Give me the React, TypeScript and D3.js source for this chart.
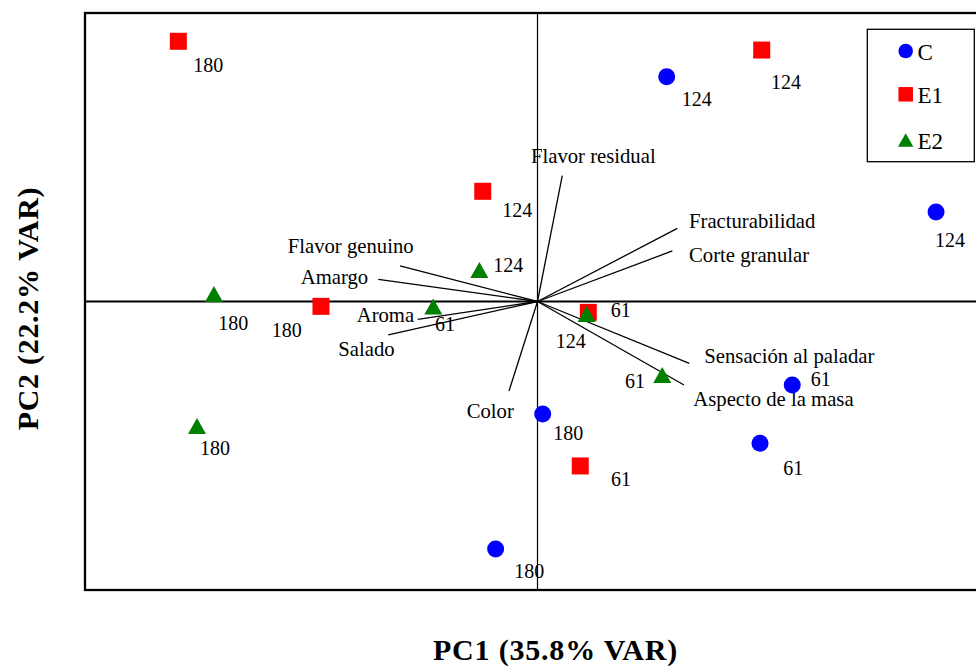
import React from "react";
import * as d3 from "d3";

// ---- data (PCA scores, arbitrary units) ----
const groups = ["C", "E1", "E2"];
const groupColors = ["#0000ff", "#ff0000", "#008000"];

const cX = [1.142, 3.523, 0.046, -0.37, 2.252, 1.967];
const cY = [1.948, 0.776, -0.975, -2.145, -0.724, -1.229];
const cLabels = ["124", "124", "180", "180", "61", "61"];

const e1X = [-3.175, 1.982, -0.484, -1.914, 0.449, 0.378];
const e1Y = [2.255, 2.179, 0.955, -0.042, -0.094, -1.425];
const e1Labels = ["180", "124", "124", "180", "61", "61"];

const e2X = [-2.86, -3.01, -0.514, -0.921, 0.435, 1.103];
const e2Y = [0.065, -1.079, 0.273, -0.043, -0.108, -0.637];
const e2Labels = ["180", "180", "124", "61", "124", "61"];

// loadings
const varNames = [
  "Flavor residual",
  "Fracturabilidad",
  "Corte granular",
  "Flavor genuino",
  "Amargo",
  "Aroma",
  "Salado",
  "Color",
  "Sensación al paladar",
  "Aspecto de la masa",
];
const varX = [0.219, 1.236, 1.192, -1.215, -1.407, -1.059, -1.319, -0.252, 1.342, 1.295];
const varY = [1.09, 0.634, 0.438, 0.308, 0.192, -0.154, -0.29, -0.776, -0.536, -0.724];

// ---- layout (label offsets in px) ----
const cLabelOff = [[15, 29.3], [-1, 34.7], [10.6, 26], [18.6, 29.3], [18.4, 1], [23.3, 31.7]];
const e1LabelOff = [[15, 30.4], [9.3, 39.3], [19.6, 26], [-49.3, 31], [22.4, 5], [30.7, 19.7]];
const e2LabelOff = [[4.3, 36], [3, 29], [14, 2], [1.7, 24.2], [-31, 34.3], [-37.3, 13.3]];
const varLabelOff = [
  [-31.3, -12.7],
  [11.7, -0.6],
  [16.7, 11],
  [-112.3, -12.7],
  [-77.6, 5],
  [-61, 2.4],
  [-50, 21],
  [-42.3, 26.7],
  [15, -0.6],
  [9.3, 21],
];

const FONT = "'Liberation Serif', 'Times New Roman', serif";

function Marker({ kind, cx, cy, color, s }: { kind: number; cx: number; cy: number; color: string; s: number }) {
  if (kind === 0) return <circle cx={cx} cy={cy} r={s / 2} fill={color} />;
  if (kind === 1) return <rect x={cx - s / 2} y={cy - s / 2} width={s} height={s} fill={color} />;
  const w = s * 1.06;
  const h = s * 0.94;
  return (
    <path
      d={`M${cx},${cy - h / 2}L${cx + w / 2},${cy + h / 2}L${cx - w / 2},${cy + h / 2}Z`}
      fill={color}
    />
  );
}

export default function App() {
  const W = 976;
  const H = 667;
  const x = d3.scaleLinear().domain([-4, 4]).range([85, 990]);
  const y = d3.scaleLinear().domain([-2.5, 2.5]).range([590, 13]);

  const series = [
    { xs: cX, ys: cY, labels: cLabels, off: cLabelOff },
    { xs: e1X, ys: e1Y, labels: e1Labels, off: e1LabelOff },
    { xs: e2X, ys: e2Y, labels: e2Labels, off: e2LabelOff },
  ];

  return (
    <svg
      width={W}
      height={H}
      style={{ position: "absolute", left: 0, top: 0, background: "#fff" }}
      fontFamily={FONT}
    >
      <rect x={0} y={0} width={W} height={H} fill="#fff" />
      {/* crosshair */}
      <line x1={x(0)} x2={x(0)} y1={y(2.5)} y2={y(-2.5)} stroke="#000" strokeWidth={1.2} />
      <line x1={x(-4)} x2={x(4)} y1={y(0)} y2={y(0)} stroke="#000" strokeWidth={2} />

      {/* loading vectors */}
      {varNames.map((n, i) => (
        <g key={n}>
          <line x1={x(0)} y1={y(0)} x2={x(varX[i])} y2={y(varY[i])} stroke="#000" strokeWidth={1.3} />
          <text
            x={x(varX[i]) + varLabelOff[i][0]}
            y={y(varY[i]) + varLabelOff[i][1]}
            fontSize={20.7}
            fill="#000"
          >
            {n}
          </text>
        </g>
      ))}

      {/* scores */}
      {series.map((s, g) =>
        s.xs.map((v, i) => (
          <g key={`${g}-${i}`}>
            <Marker kind={g} cx={x(v)} cy={y(s.ys[i])} color={groupColors[g]} s={17} />
            <text x={x(v) + s.off[i][0]} y={y(s.ys[i]) + s.off[i][1]} fontSize={20} fill="#000">
              {s.labels[i]}
            </text>
          </g>
        ))
      )}

      {/* frame */}
      <rect x={85} y={13} width={905} height={577} fill="none" stroke="#000" strokeWidth={2.3} />

      {/* legend */}
      <rect x={867.3} y={29.3} width={107} height={132.4} fill="#fff" stroke="#000" strokeWidth={1.3} />
      {groups.map((gName, g) => {
        const cy = [51, 94.3, 140][g];
        return (
          <g key={gName}>
            <Marker kind={g} cx={905.7} cy={cy} color={groupColors[g]} s={14.5} />
            <text x={917.5} y={cy + 9} fontSize={23} fill="#000">
              {gName}
            </text>
          </g>
        );
      })}

      {/* axis titles */}
      <text
        x={555.5}
        y={660}
        textAnchor="middle"
        fontSize={30}
        fontWeight="bold"
        letterSpacing={0.8}
        fill="#000"
      >
        PC1 (35.8% VAR)
      </text>
      <text
        transform="translate(38,308.5) rotate(-90)"
        textAnchor="middle"
        fontSize={30}
        fontWeight="bold"
        letterSpacing={0.7}
        fill="#000"
      >
        PC2 (22.2% VAR)
      </text>
    </svg>
  );
}
